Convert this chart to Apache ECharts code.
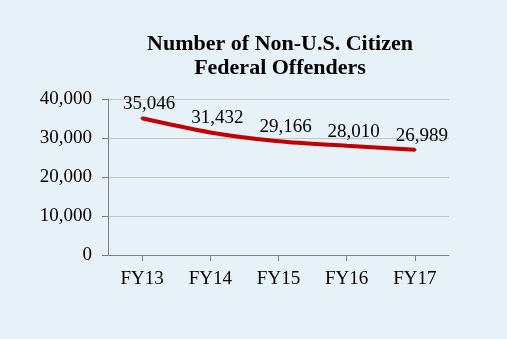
<!DOCTYPE html>
<html><head><meta charset="utf-8">
<script src="https://cdn.jsdelivr.net/npm/echarts@6/dist/echarts.min.js"></script>
<style>html,body{margin:0;padding:0;background:#e7f2f8;}#c{width:507px;height:339px;}</style>
</head><body><div id="c"></div>
<script>
var categories = ['FY13','FY14','FY15','FY16','FY17'];
var offenders = [35046, 31432, 29166, 28010, 26989];
var yTicks = [0, 10000, 20000, 30000, 40000];
var titleLines = ['Number of Non-U.S. Citizen', 'Federal Offenders'];

var FONT = '"Liberation Serif","Times New Roman",serif';
var chart = echarts.init(document.getElementById('c'), null, {renderer:'canvas'});
chart.setOption({
  backgroundColor: '#e7f2f8',
  animation: false,
  title: {
    text: titleLines.join('\n'),
    left: 275, top: 27, textAlign: 'center',
    textStyle: {fontFamily: FONT, fontWeight: 'bold', fontSize: 22, lineHeight: 24, color: '#000'}
  },
  grid: {left: 108, right: 58, top: 99, bottom: 84},
  xAxis: {
    type: 'category', data: categories, boundaryGap: true,
    axisLine: {lineStyle: {color: '#7f7f7f', width: 1}},
    axisTick: {show: true, alignWithLabel: true, length: 6, lineStyle: {color: '#7f7f7f', width: 1}},
    axisLabel: {fontFamily: FONT, fontSize: 19, color: '#000', margin: 15}
  },
  yAxis: {
    type: 'value', min: yTicks[0], max: yTicks[yTicks.length-1], interval: yTicks[1]-yTicks[0],
    axisLine: {show: true, lineStyle: {color: '#7f7f7f', width: 1}},
    axisTick: {show: true, inside: false, length: 6, lineStyle: {color: '#7f7f7f', width: 1}},
    splitLine: {lineStyle: {color: '#c4c4c4', width: 1}},
    axisLabel: {fontFamily: FONT, fontSize: 19, color: '#000', margin: 16,
      formatter: function(v){ return v.toLocaleString('en-US'); }}
  },
  series: [{
    type: 'line', data: offenders, smooth: 0.3,
    symbol: 'circle', symbolSize: 3, showSymbol: true,
    itemStyle: {color: '#c00000'},
    lineStyle: {color: '#c00000', width: 4},
    label: {show: true, position: 'top', distance: 3, offset: [7, 0],
      fontFamily: FONT, fontSize: 19, color: '#000',
      formatter: function(p){ return p.value.toLocaleString('en-US'); }}
  }]
});
</script></body></html>
